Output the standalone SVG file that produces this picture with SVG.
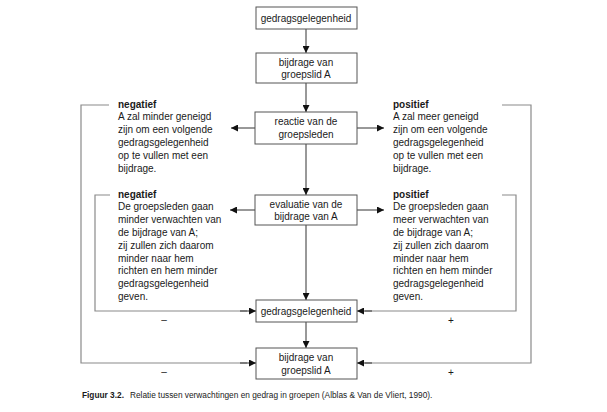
<svg xmlns="http://www.w3.org/2000/svg" width="607" height="412" viewBox="0 0 607 412">
<style>
text{font-family:"Liberation Sans",Arial,sans-serif;font-size:10px;fill:#1a1a1a}
.c{text-anchor:middle}
.b{font-weight:bold}
.box{fill:#fff;stroke:#555;stroke-width:1}
.ln{fill:none;stroke:#333;stroke-width:1}
.fb{fill:none;stroke:#8a8a8a;stroke-width:1.2}
.sm{font-size:8.3px}
</style>
<defs>
<marker id="ah" viewBox="0 0 10 10" refX="10" refY="5" markerWidth="9" markerHeight="7" markerUnits="userSpaceOnUse" orient="auto">
<path d="M0,0 L10,5 L0,10 z" fill="#111"/>
</marker>
</defs>
<rect width="607" height="412" fill="#fff"/>
<g id="connectors">
<line class="ln" x1="306" y1="29" x2="306" y2="53" marker-end="url(#ah)"/>
<line class="ln" x1="306" y1="83" x2="306" y2="112" marker-end="url(#ah)"/>
<line class="ln" x1="306" y1="144" x2="306" y2="195" marker-end="url(#ah)"/>
<line class="ln" x1="306" y1="225" x2="306" y2="300" marker-end="url(#ah)"/>
<line class="ln" x1="306" y1="322" x2="306" y2="348" marker-end="url(#ah)"/>
<line class="ln" x1="256" y1="128" x2="231" y2="128" marker-end="url(#ah)"/>
<line class="ln" x1="357" y1="128" x2="384" y2="128" marker-end="url(#ah)"/>
<line class="ln" x1="256" y1="210" x2="230" y2="210" marker-end="url(#ah)"/>
<line class="ln" x1="357" y1="210" x2="384" y2="210" marker-end="url(#ah)"/>
<polyline class="fb" points="109,105 81,105 81,363 247,363"/>
<polyline class="fb" points="110,195 95,195 95,311 247,311"/>
<polyline class="fb" points="502,105 531,105 531,363 365,363"/>
<polyline class="fb" points="502,195 516,195 516,311 365,311"/>
<line class="ln" x1="240" y1="363" x2="256" y2="363" marker-end="url(#ah)"/>
<line class="ln" x1="240" y1="311" x2="256" y2="311" marker-end="url(#ah)"/>
<line class="ln" x1="372" y1="363" x2="357" y2="363" marker-end="url(#ah)"/>
<line class="ln" x1="372" y1="311" x2="357" y2="311" marker-end="url(#ah)"/>
<text class="c" x="164" y="323">–</text>
<text class="c" x="164" y="375">–</text>
<text class="c" x="451" y="324">+</text>
<text class="c" x="451" y="376">+</text>
</g>
<g id="n1"><rect class="box" x="256" y="7" width="101" height="22"/><text class="c" x="306" y="21.5">gedragsgelegenheid</text></g>
<g id="n2"><rect class="box" x="256" y="53" width="101" height="30"/><text class="c" x="306" y="65.5">bijdrage van</text><text class="c" x="306" y="78">groepslid A</text></g>
<g id="n3"><rect class="box" x="255" y="112" width="102" height="32"/><text class="c" x="306" y="125">reactie van de</text><text class="c" x="306" y="137.5">groepsleden</text></g>
<g id="n4"><rect class="box" x="255" y="195" width="102" height="30"/><text class="c" x="306" y="207.5">evaluatie van de</text><text class="c" x="306" y="220">bijdrage van A</text></g>
<g id="n5"><rect class="box" x="256" y="300" width="101" height="22"/><text class="c" x="306" y="315">gedragsgelegenheid</text></g>
<g id="n6"><rect class="box" x="256" y="348" width="101" height="31"/><text class="c" x="306" y="361">bijdrage van</text><text class="c" x="306" y="373.5">groepslid A</text></g>
<g id="t1">
<text x="118" y="107.5" class="b">negatief</text>
<text x="118" y="120.3">A zal minder geneigd</text>
<text x="118" y="133.1">zijn om een volgende</text>
<text x="118" y="145.9">gedragsgelegenheid</text>
<text x="118" y="158.7">op te vullen met een</text>
<text x="118" y="171.5">bijdrage.</text>
</g>
<g id="t2">
<text x="393" y="107.5" class="b">positief</text>
<text x="393" y="120.3">A zal meer geneigd</text>
<text x="393" y="133.1">zijn om een volgende</text>
<text x="393" y="145.9">gedragsgelegenheid</text>
<text x="393" y="158.7">op te vullen met een</text>
<text x="393" y="171.5">bijdrage.</text>
</g>
<g id="t3">
<text x="118" y="197.5" class="b">negatief</text>
<text x="118" y="210.3">De groepsleden gaan</text>
<text x="118" y="223.1">minder verwachten van</text>
<text x="118" y="235.9">de bijdrage van A;</text>
<text x="118" y="248.7">zij zullen zich daarom</text>
<text x="118" y="261.5">minder naar hem</text>
<text x="118" y="274.3">richten en hem minder</text>
<text x="118" y="287.1">gedragsgelegenheid</text>
<text x="118" y="299.9">geven.</text>
</g>
<g id="t4">
<text x="393" y="197.5" class="b">positief</text>
<text x="393" y="210.3">De groepsleden gaan</text>
<text x="393" y="223.1">meer verwachten van</text>
<text x="393" y="235.9">de bijdrage van A;</text>
<text x="393" y="248.7">zij zullen zich daarom</text>
<text x="393" y="261.5">minder naar hem</text>
<text x="393" y="274.3">richten en hem minder</text>
<text x="393" y="287.1">gedragsgelegenheid</text>
<text x="393" y="299.9">geven.</text>
</g>
<g id="caption">
<text x="82" y="397.5" class="sm"><tspan font-weight="bold">Figuur 3.2.</tspan><tspan dx="6">Relatie tussen verwachtingen en gedrag in groepen (Alblas &amp; Van de Vliert, 1990).</tspan></text>
</g>
</svg>
